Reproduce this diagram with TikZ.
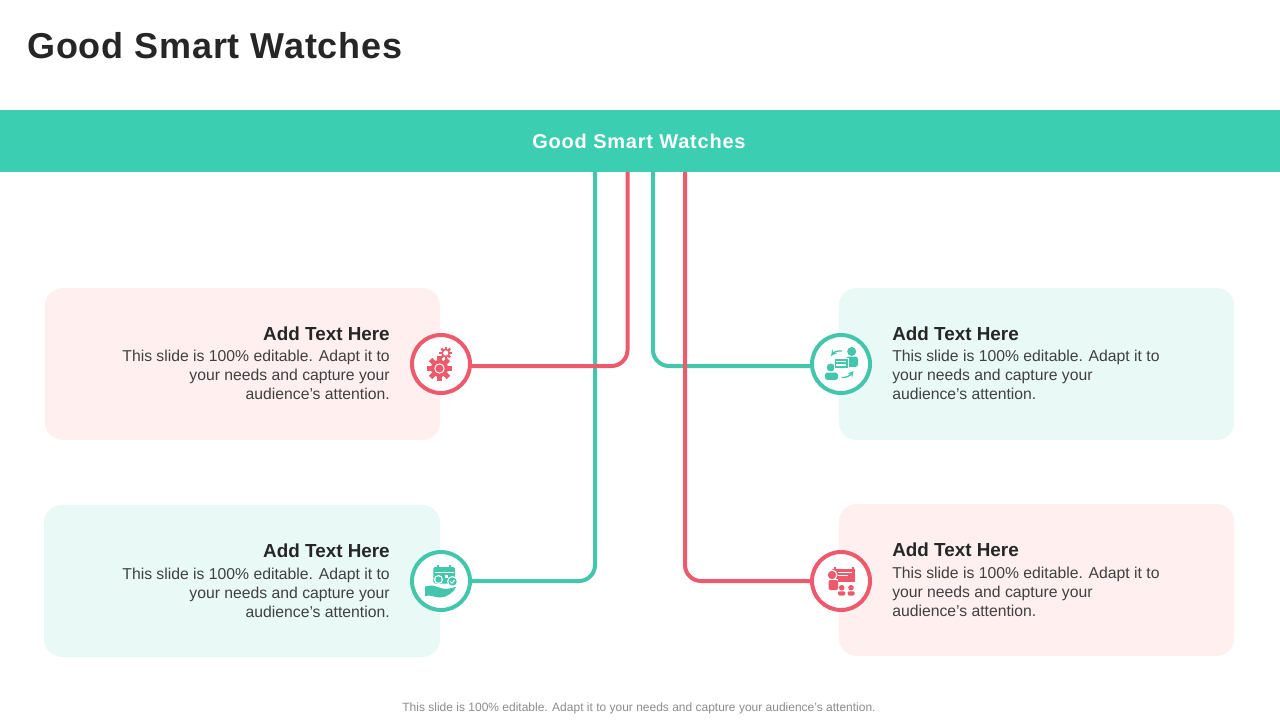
\documentclass[tikz,border=0pt]{standalone}
\usepackage{fontspec}
\setmainfont{Liberation Sans}
\newfontfamily\titlefont[LetterSpace=2.3,BoldFont={Liberation Sans Bold}]{Liberation Sans}
\newfontfamily\bandfont[LetterSpace=3.9,BoldFont={Liberation Sans Bold}]{Liberation Sans}
\definecolor{teal1}{HTML}{3CCEB0}
\definecolor{tealline}{HTML}{43C6AC}
\definecolor{redline}{HTML}{EC5A6C}
\definecolor{pinkbg}{HTML}{FFEFEF}
\definecolor{mintbg}{HTML}{E9F9F5}
\definecolor{ink}{HTML}{262626}
\definecolor{body}{HTML}{404040}
\definecolor{foot}{HTML}{8C8C8C}
\usetikzlibrary{calc}
\tikzset{
 x=0.75pt,y=-0.75pt,
 card/.style={rounded corners=13.5pt,minimum width=296.5pt,minimum height=114pt,inner sep=0pt,draw=none},
 ring/.style={circle,draw=#1,fill=white,line width=3pt,minimum size=43.5pt,inner sep=0pt},
 link/.style={draw=#1,line width=3pt,rounded corners=12pt},
 head/.style={font=\bfseries\fontsize{14.15}{16}\selectfont,text=ink,inner sep=0pt},
 bodyr/.style={font=\fontsize{11.8}{14.25}\selectfont,text=body,align=right,inner sep=0pt},
 bodyl/.style={font=\fontsize{11.8}{14.25}\selectfont,text=body,align=left,inner sep=0pt},
}
\newcommand{\gearicon}[4]{% x y radius colour
 \fill[#4] (#1,#2) circle[radius=#3*0.72];
 \foreach \a in {0,45,...,315}{\fill[#4,rotate around={\a:(#1,#2)}] ($(#1,#2)+(-#3*0.2,-#3*1.05)$) rectangle ($(#1,#2)+(#3*0.2,0)$);}
}
\begin{document}
\begin{tikzpicture}
\useasboundingbox (0,0) rectangle (1280,720);
\fill[white] (0,0) rectangle (1280,720);
\node[anchor=west,inner sep=0pt,font=\titlefont\bfseries\fontsize{27}{32}\selectfont,text=ink] (title) at (27,45.5) {Good Smart Watches};
\node[card,fill=pinkbg] (c1) at (242.5,364) {};
\node[card,fill=mintbg,minimum width=297pt] (c2) at (242,581) {};
\node[card,fill=mintbg] (c3) at (1036.5,364) {};
\node[card,fill=pinkbg] (c4) at (1036.5,580) {};
\node[fill=teal1,minimum width=960pt,minimum height=46.5pt,inner sep=0pt] (band) at (640,141) {};
\node[text=white,inner sep=0pt,font=\bandfont\bfseries\fontsize{15}{18}\selectfont] (bandt) at (639,141.5) {Good Smart Watches};
\node[ring=redline] (r1) at (441,364) {};
\node[ring=tealline] (r2) at (441,581) {};
\node[ring=tealline] (r3) at (841,364) {};
\node[ring=redline] (r4) at (841,581) {};
\coordinate (t1) at (595,172);
\coordinate (t2) at (627.5,172);
\coordinate (t3) at (653,172);
\coordinate (t4) at (685,172);
\draw[link=tealline] (t1) |- (r2.east);
\draw[link=redline] (t2) -- (627.5,366) -- ($(r1.east)+(0,2)$);
\draw[link=tealline] (t3) -- (653,366) -- ($(r3.west)+(0,2)$);
\draw[link=redline] (t4) |- (r4.west);
% texts
\node[head,anchor=east] (h1) at (390,334) {Add Text Here};
\node[bodyr,anchor=north east] (b1) at (390,350) {This slide is 100\% editable. Adapt it to\\your needs and capture your\\audience's attention.};
\node[head,anchor=east] (h2) at (390,551) {Add Text Here};
\node[bodyr,anchor=north east] (b2) at (390,568) {This slide is 100\% editable. Adapt it to\\your needs and capture your\\audience's attention.};
\node[head,anchor=west] (h3) at (892,334) {Add Text Here};
\node[bodyl,anchor=north west] (b3) at (892,350) {This slide is 100\% editable. Adapt it to\\your needs and capture your\\audience's attention.};
\node[head,anchor=west] (h4) at (892,550) {Add Text Here};
\node[bodyl,anchor=north west] (b4) at (892,567) {This slide is 100\% editable. Adapt it to\\your needs and capture your\\audience's attention.};
\node[inner sep=0pt,text=foot,font=\fontsize{9}{11}\selectfont] (foot) at (639,708) {This slide is 100\% editable. Adapt it to your needs and capture your audience's attention.};
% icon gears
\gearicon{439.5}{368.5}{12}{redline}
\fill[white] (439.5,368.5) circle[radius=5.2];
\fill[redline] (439.5,368.5) circle[radius=4];
\gearicon{445.7}{353}{6}{redline}
\fill[white] (445.7,353) circle[radius=2.6];
% icon people exchange (r3)
\fill[tealline] (851.7,351.5) circle[radius=4.5];
\fill[tealline,rounded corners=2pt] (846,356.5) rectangle (858,367);
\fill[tealline] (830.7,367.5) circle[radius=4];
\fill[tealline,rounded corners=2pt] (825,372.5) rectangle (838,380);
\fill[tealline,draw=white,line width=0.6pt] (834,358) rectangle (848,368.5);
\draw[white,line width=0.8pt] (836,361.5) -- (846,361.5) (836,365) -- (846,365);
\draw[tealline,line width=1pt,-stealth] (842,351) .. controls (838,350.5) and (834,352) .. (831,356);
\draw[tealline,line width=1pt,-stealth] (841.5,377.5) .. controls (846,378) and (850,375.5) .. (853.5,371);
% icon calendar hand (r2)
\fill[tealline,rounded corners=1.5pt] (433.3,567) rectangle (455,583.5);
\fill[white] (435,572) rectangle (453.5,573);
\fill[tealline] (437,565) rectangle (439,570) (449,565) rectangle (451,570);
\fill[white] (438.5,579.5) circle[radius=4.5];
\fill[tealline] (438.5,579.5) circle[radius=3.2];
\fill[white] (444.5,575) rectangle (447.5,578);
\fill[white] (452.5,581.5) circle[radius=5.5];
\fill[tealline] (452.5,581.5) circle[radius=4.2];
\draw[white,line width=0.8pt] (450.4,581.5) -- (452,583.2) -- (454.6,580);
\fill[tealline] (425,586.5) -- (431,585.5) .. controls (436,585.5) and (440,589) .. (447,589) -- (456,587) .. controls (454,592) and (447,597.5) .. (440,597.5) .. controls (435,597.5) and (431,594.5) .. (425,596) -- cycle;
% icon presentation (r4)
\fill[redline] (832,569) rectangle (855,582);
\fill[redline] (834,567) rectangle (836,570) (852,567) rectangle (854,570);
\draw[white,line width=0.8pt] (838,572.5) -- (852,572.5) (838,575.5) -- (848,575.5);
\fill[white] (832,575) circle[radius=5.5];
\fill[redline] (832,575) circle[radius=4.2];
\fill[white] (827.5,579) rectangle (838,590.5);
\fill[redline,rounded corners=1.5pt] (828.5,580) rectangle (838,590);
\fill[redline] (841.7,587.7) circle[radius=2.8] (851,587.7) circle[radius=2.8];
\fill[redline,rounded corners=1pt] (838,591.3) rectangle (845.3,595.5);
\fill[redline,rounded corners=1pt] (847.5,591.3) rectangle (854.7,595.5);
\end{tikzpicture}
\end{document}
